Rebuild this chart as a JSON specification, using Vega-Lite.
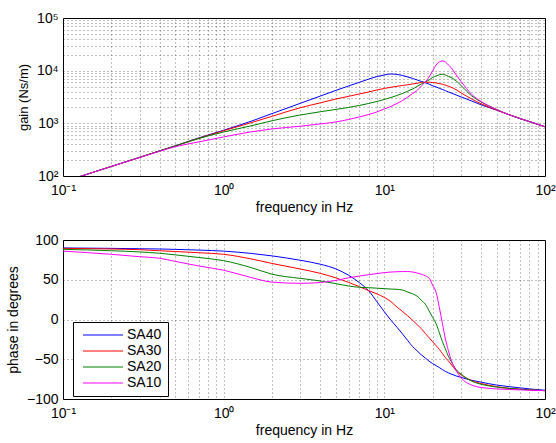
{
  "$schema": "https://vega.github.io/schema/vega-lite/v6.json",
  "padding": {"left": 5, "top": 10, "right": 0, "bottom": 0},
  "spacing": 17,
  "config": {
    "font": "Liberation Sans",
    "view": {"stroke": "#000", "strokeWidth": 1},
    "axis": {
      "labelFont": "Liberation Sans", "titleFont": "Liberation Sans",
      "labelFontSize": 14, "titleFontSize": 14, "titleFontWeight": "normal",
      "labelColor": "#000", "titleColor": "#000", "domain": false,
      "grid": true, "gridColor": "#000", "gridOpacity": 0.5, "gridDash": [1, 3],
      "ticks": false, "labelOverlap": false, "labelFlush": false, "labelPadding": 5, "titlePadding": 5
    }
  },
  "data": {"values": [
    {"s":"SA40","f":0.1,"g":77,"p":90},{"s":"SA40","f":0.2,"g":152,"p":89.5},{"s":"SA40","f":0.3,"g":226,"p":89},{"s":"SA40","f":0.4,"g":300,"p":88.7},{"s":"SA40","f":0.5,"g":374,"p":88.2},{"s":"SA40","f":0.7,"g":528,"p":87.3},{"s":"SA40","f":1,"g":740,"p":86},{"s":"SA40","f":1.5,"g":1110,"p":83},{"s":"SA40","f":2,"g":1530,"p":80},{"s":"SA40","f":3,"g":2400,"p":74.5},{"s":"SA40","f":4,"g":3300,"p":69.5},{"s":"SA40","f":5,"g":4225,"p":63.6},{"s":"SA40","f":6,"g":5130,"p":55.6},{"s":"SA40","f":7,"g":6020,"p":46.3},{"s":"SA40","f":8,"g":6920,"p":36},{"s":"SA40","f":9,"g":7740,"p":22.2},{"s":"SA40","f":10,"g":8290,"p":9.8},{"s":"SA40","f":11,"g":8660,"p":-1},{"s":"SA40","f":12,"g":8470,"p":-9.8},{"s":"SA40","f":13,"g":8110,"p":-18.4},{"s":"SA40","f":14,"g":7600,"p":-26.6},{"s":"SA40","f":15,"g":7110,"p":-34},{"s":"SA40","f":16,"g":6660,"p":-39.5},{"s":"SA40","f":17,"g":6240,"p":-44.5},{"s":"SA40","f":18,"g":5900,"p":-48.5},{"s":"SA40","f":19,"g":5550,"p":-52.5},{"s":"SA40","f":20,"g":5170,"p":-55.5},{"s":"SA40","f":21,"g":4900,"p":-58},{"s":"SA40","f":22,"g":4620,"p":-60.5},{"s":"SA40","f":23,"g":4400,"p":-63},{"s":"SA40","f":24,"g":4170,"p":-65.3},{"s":"SA40","f":25,"g":3960,"p":-67},{"s":"SA40","f":26,"g":3780,"p":-68.5},{"s":"SA40","f":28,"g":3450,"p":-71},{"s":"SA40","f":30,"g":3180,"p":-72.8},{"s":"SA40","f":35,"g":2650,"p":-76.5},{"s":"SA40","f":40,"g":2250,"p":-78.8},{"s":"SA40","f":50,"g":1780,"p":-82.5},{"s":"SA40","f":60,"g":1450,"p":-84.5},{"s":"SA40","f":70,"g":1230,"p":-86},{"s":"SA40","f":80,"g":1080,"p":-87.3},{"s":"SA40","f":100,"g":860,"p":-89},
    {"s":"SA30","f":0.1,"g":77,"p":89.5},{"s":"SA30","f":0.2,"g":152,"p":88.7},{"s":"SA30","f":0.3,"g":226,"p":87.8},{"s":"SA30","f":0.4,"g":300,"p":86.5},{"s":"SA30","f":0.5,"g":373,"p":85.5},{"s":"SA30","f":0.7,"g":520,"p":84},{"s":"SA30","f":1,"g":725,"p":82},{"s":"SA30","f":1.5,"g":1040,"p":76},{"s":"SA30","f":2,"g":1360,"p":70.5},{"s":"SA30","f":3,"g":1980,"p":63.5},{"s":"SA30","f":4,"g":2450,"p":58},{"s":"SA30","f":5,"g":2900,"p":52.3},{"s":"SA30","f":6,"g":3260,"p":46.6},{"s":"SA30","f":7,"g":3614,"p":41.3},{"s":"SA30","f":8,"g":3943,"p":36.3},{"s":"SA30","f":9,"g":4304,"p":32.2},{"s":"SA30","f":10,"g":4595,"p":27.7},{"s":"SA30","f":11,"g":4842,"p":22.5},{"s":"SA30","f":12,"g":5058,"p":15.5},{"s":"SA30","f":13,"g":5238,"p":10},{"s":"SA30","f":14,"g":5401,"p":4.5},{"s":"SA30","f":15,"g":5593,"p":-1},{"s":"SA30","f":16,"g":5767,"p":-6.5},{"s":"SA30","f":17,"g":5975,"p":-11.5},{"s":"SA30","f":18,"g":6026,"p":-17.5},{"s":"SA30","f":19,"g":6026,"p":-23},{"s":"SA30","f":20,"g":5975,"p":-28},{"s":"SA30","f":21,"g":5845,"p":-33},{"s":"SA30","f":22,"g":5667,"p":-37.5},{"s":"SA30","f":23,"g":5521,"p":-43},{"s":"SA30","f":24,"g":5300,"p":-48},{"s":"SA30","f":25,"g":5080,"p":-52},{"s":"SA30","f":26,"g":4850,"p":-56},{"s":"SA30","f":28,"g":4350,"p":-64.5},{"s":"SA30","f":30,"g":3800,"p":-69.5},{"s":"SA30","f":35,"g":2900,"p":-77},{"s":"SA30","f":40,"g":2350,"p":-80.5},{"s":"SA30","f":50,"g":1790,"p":-84.5},{"s":"SA30","f":60,"g":1450,"p":-86.5},{"s":"SA30","f":70,"g":1230,"p":-87.7},{"s":"SA30","f":80,"g":1080,"p":-88.5},{"s":"SA30","f":100,"g":860,"p":-89.5},
    {"s":"SA20","f":0.1,"g":77,"p":88.3},{"s":"SA20","f":0.2,"g":152,"p":86.5},{"s":"SA20","f":0.3,"g":226,"p":85},{"s":"SA20","f":0.4,"g":300,"p":83.3},{"s":"SA20","f":0.5,"g":372,"p":81.3},{"s":"SA20","f":0.7,"g":515,"p":78},{"s":"SA20","f":1,"g":685,"p":74},{"s":"SA20","f":1.5,"g":905,"p":65},{"s":"SA20","f":2,"g":1120,"p":57},{"s":"SA20","f":3,"g":1440,"p":51.7},{"s":"SA20","f":4,"g":1660,"p":48.5},{"s":"SA20","f":5,"g":1840,"p":45.1},{"s":"SA20","f":6,"g":2003,"p":42.1},{"s":"SA20","f":7,"g":2186,"p":40.5},{"s":"SA20","f":8,"g":2386,"p":40},{"s":"SA20","f":9,"g":2603,"p":39.4},{"s":"SA20","f":10,"g":2841,"p":38.8},{"s":"SA20","f":11,"g":3101,"p":38.3},{"s":"SA20","f":12,"g":3384,"p":38},{"s":"SA20","f":13,"g":3693,"p":37},{"s":"SA20","f":14,"g":4080,"p":34.5},{"s":"SA20","f":15,"g":4496,"p":32.3},{"s":"SA20","f":16,"g":5014,"p":29.4},{"s":"SA20","f":17,"g":5593,"p":24.1},{"s":"SA20","f":18,"g":6105,"p":19.3},{"s":"SA20","f":19,"g":6660,"p":10.8},{"s":"SA20","f":20,"g":7430,"p":2.6},{"s":"SA20","f":21,"g":7930,"p":-5.3},{"s":"SA20","f":22,"g":8360,"p":-16.7},{"s":"SA20","f":23,"g":8545,"p":-27.9},{"s":"SA20","f":24,"g":8290,"p":-37},{"s":"SA20","f":25,"g":7830,"p":-46},{"s":"SA20","f":26,"g":7430,"p":-52.5},{"s":"SA20","f":28,"g":6380,"p":-63},{"s":"SA20","f":30,"g":5238,"p":-68.6},{"s":"SA20","f":35,"g":3311,"p":-77.6},{"s":"SA20","f":40,"g":2547,"p":-81.5},{"s":"SA20","f":50,"g":1835,"p":-85},{"s":"SA20","f":60,"g":1450,"p":-86.7},{"s":"SA20","f":70,"g":1235,"p":-87.8},{"s":"SA20","f":80,"g":1080,"p":-88.6},{"s":"SA20","f":100,"g":860,"p":-89.5},
    {"s":"SA10","f":0.1,"g":77,"p":86},{"s":"SA10","f":0.2,"g":152,"p":82},{"s":"SA10","f":0.3,"g":224,"p":79},{"s":"SA10","f":0.4,"g":295,"p":77},{"s":"SA10","f":0.5,"g":360,"p":73.1},{"s":"SA10","f":0.7,"g":444,"p":67.3},{"s":"SA10","f":1,"g":552,"p":62},{"s":"SA10","f":1.5,"g":693,"p":52.5},{"s":"SA10","f":2,"g":783,"p":47},{"s":"SA10","f":3,"g":881,"p":45.5},{"s":"SA10","f":4,"g":974,"p":46.5},{"s":"SA10","f":5,"g":1063,"p":49.2},{"s":"SA10","f":6,"g":1186,"p":52.5},{"s":"SA10","f":7,"g":1323,"p":54.7},{"s":"SA10","f":8,"g":1475,"p":56.4},{"s":"SA10","f":9,"g":1646,"p":57.8},{"s":"SA10","f":10,"g":1876,"p":59},{"s":"SA10","f":11,"g":2093,"p":59.7},{"s":"SA10","f":12,"g":2386,"p":60.1},{"s":"SA10","f":13,"g":2720,"p":60.3},{"s":"SA10","f":14,"g":3170,"p":60.3},{"s":"SA10","f":15,"g":3693,"p":59.8},{"s":"SA10","f":16,"g":4210,"p":58.5},{"s":"SA10","f":17,"g":5125,"p":57},{"s":"SA10","f":18,"g":6105,"p":55},{"s":"SA10","f":19,"g":7600,"p":52},{"s":"SA10","f":20,"g":9950,"p":43},{"s":"SA10","f":21,"g":12830,"p":34},{"s":"SA10","f":22,"g":14630,"p":15},{"s":"SA10","f":23,"g":15280,"p":-5},{"s":"SA10","f":24,"g":14630,"p":-24.5},{"s":"SA10","f":25,"g":12830,"p":-38.6},{"s":"SA10","f":26,"g":11500,"p":-50.5},{"s":"SA10","f":28,"g":8290,"p":-64.2},{"s":"SA10","f":30,"g":6240,"p":-73.3},{"s":"SA10","f":35,"g":3536,"p":-82.5},{"s":"SA10","f":40,"g":2603,"p":-85.5},{"s":"SA10","f":50,"g":1835,"p":-87.3},{"s":"SA10","f":60,"g":1450,"p":-88},{"s":"SA10","f":70,"g":1235,"p":-88.5},{"s":"SA10","f":80,"g":1080,"p":-89},{"s":"SA10","f":100,"g":860,"p":-89.5}
  ]},
  "vconcat": [
    {
      "width": 482, "height": 158,
      "mark": {"type": "line", "strokeWidth": 1, "clip": true, "interpolate": "monotone"},
      "encoding": {
        "x": {"field": "f", "type": "quantitative",
          "scale": {"type": "log", "domain": [0.1, 100], "nice": false},
          "axis": {"title": "frequency in Hz", "labelPadding": 7, "titlePadding": 3,
            "values": [0.1,0.2,0.3,0.4,0.5,0.6,0.7,0.8,0.9,1,2,3,4,5,6,7,8,9,10,20,30,40,50,60,70,80,90,100],
            "labelExpr": "datum.value == 0.1 ? '10⁻¹' : datum.value == 1 ? '10⁰' : datum.value == 10 ? '10¹' : datum.value == 100 ? '10²' : ''"}},
        "y": {"field": "g", "type": "quantitative",
          "scale": {"type": "log", "domain": [100, 100000], "nice": false},
          "axis": {"title": "gain (Ns/m)", "titleFontSize": 13, "titlePadding": 6,
            "values": [100,200,300,400,500,600,700,800,900,1000,2000,3000,4000,5000,6000,7000,8000,9000,10000,20000,30000,40000,50000,60000,70000,80000,90000,100000],
            "labelExpr": "datum.value == 100 ? '10²' : datum.value == 1000 ? '10³' : datum.value == 10000 ? '10⁴' : datum.value == 100000 ? '10⁵' : ''"}},
        "color": {"field": "s", "type": "nominal",
          "scale": {"domain": ["SA40","SA30","SA20","SA10"], "range": ["#0000ff","#ff0000","#008000","#ff00ff"]},
          "legend": null}
      }
    },
    {
      "width": 482, "height": 159,
      "mark": {"type": "line", "strokeWidth": 1, "clip": true, "interpolate": "monotone"},
      "encoding": {
        "x": {"field": "f", "type": "quantitative",
          "scale": {"type": "log", "domain": [0.1, 100], "nice": false},
          "axis": {"title": "frequency in Hz", "labelPadding": 7, "titlePadding": 3,
            "values": [0.1,0.2,0.3,0.4,0.5,0.6,0.7,0.8,0.9,1,2,3,4,5,6,7,8,9,10,20,30,40,50,60,70,80,90,100],
            "labelExpr": "datum.value == 0.1 ? '10⁻¹' : datum.value == 1 ? '10⁰' : datum.value == 10 ? '10¹' : datum.value == 100 ? '10²' : ''"}},
        "y": {"field": "p", "type": "quantitative",
          "scale": {"domain": [-100, 100], "nice": false},
          "axis": {"title": "phase in degrees", "values": [-100,-50,0,50,100], "titlePadding": 6}},
        "color": {"field": "s", "type": "nominal",
          "scale": {"domain": ["SA40","SA30","SA20","SA10"], "range": ["#0000ff","#ff0000","#008000","#ff00ff"]},
          "legend": {"orient": "none", "legendX": 10, "legendY": 82, "title": null,
            "symbolType": "M-0.6,0H7.4", "symbolSize": 100, "symbolStrokeWidth": 1,
            "labelFont": "Liberation Sans", "labelFontSize": 14, "labelColor": "#000",
            "labelOffset": 34, "padding": 6, "rowPadding": 2,
            "strokeColor": "#000", "fillColor": "#fff"}}
      }
    }
  ],
  "resolve": {"legend": {"color": "independent"}}
}
